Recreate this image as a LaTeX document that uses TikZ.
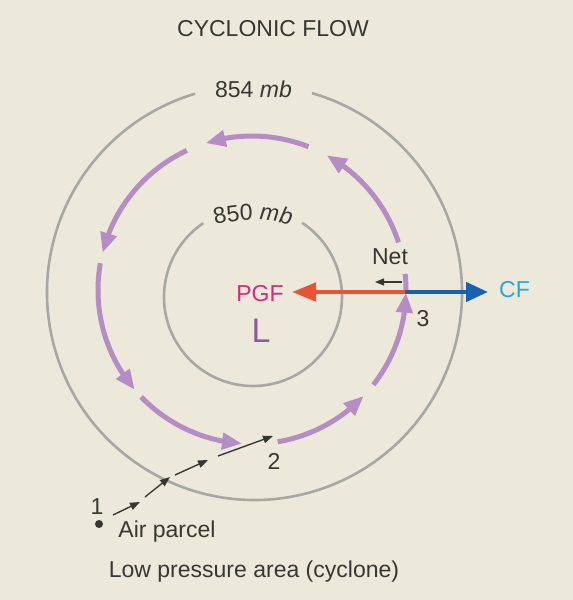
\documentclass[tikz,border=0pt]{standalone}
\usepackage{fontspec}
\setmainfont{Liberation Sans}
\usetikzlibrary{arrows.meta,bending,decorations.text}
\definecolor{bg}{RGB}{236,233,219}
\definecolor{ringc}{RGB}{168,168,163}
\definecolor{flowc}{RGB}{181,140,196}
\definecolor{ink}{RGB}{55,55,50}
\definecolor{pgfred}{RGB}{234,82,52}
\definecolor{pgfpink}{RGB}{214,40,128}
\definecolor{cfblue}{RGB}{22,98,176}
\definecolor{cfcyan}{RGB}{38,168,220}
\definecolor{lpurple}{RGB}{140,92,160}
\begin{document}
\begin{tikzpicture}[x=1pt,y=1pt,
  ring/.style={draw=ringc, line width=2.6pt},
  flowseg/.style={draw=flowc, line width=5pt, -{Triangle[length=20pt,width=16pt,flex]}},
  flowplain/.style={draw=flowc, line width=5pt},
  lbl/.style={font=\fontsize{23}{26}\selectfont, text=ink, inner sep=0pt, anchor=base},
  hop/.style={draw=ink, line width=1.4pt, -{Triangle[length=10pt,width=7.5pt]}},
]
\useasboundingbox[fill=bg] (0,0) rectangle (573,600);

% isobars
\draw[ring] ([shift={(106.6:207.5)}]254.5,307.5) arc[start angle=106.6, end angle=433.9, radius=207.5];
\draw[ring] ([shift={(124:89)}]253,303) arc[start angle=124, end angle=416.5, radius=89];

% cyclonic flow arrows
\draw[flowplain] ([shift={(0:154)}]252,310) arc[start angle=0, end angle=6, radius=154];
\draw[flowseg] ([shift={(18:154)}]252,310) arc[start angle=18, end angle=61, radius=154];
\draw[flowseg] ([shift={(68.5:154)}]252,310) arc[start angle=68.5, end angle=107.5, radius=154];
\draw[flowseg] ([shift={(115:154)}]252,310) arc[start angle=115, end angle=166, radius=154];
\draw[flowseg] ([shift={(170:154)}]252,310) arc[start angle=170, end angle=220.4, radius=154];
\draw[flowseg] ([shift={(224:154)}]252,310) arc[start angle=224, end angle=266.3, radius=154];
\draw[flowseg] ([shift={(279.6:154)}]252,310) arc[start angle=279.6, end angle=316.5, radius=154];
\draw[flowseg] ([shift={(322:154)}]252,310) arc[start angle=322, end angle=359, radius=154];

% labels
\node[lbl] (title) at (273,563) {CYCLONIC FLOW};
\node[lbl] (p854) at (253.5,502) {854 \textit{mb}};
\path[decorate, decoration={text along path, text align=center,
  text={|\fontsize{23}{26}\selectfont\color{ink}|850 |\fontsize{23}{26}\selectfont\itshape\color{ink}|mb}}]
  ([shift={(108:150)}]253,230) arc[start angle=108, end angle=72, radius=150];

\coordinate (p3) at (405,308);
\coordinate (pgftip) at (292,308);
\coordinate (cftip) at (488,308);
\node[lbl, text=pgfpink] (pgf) at (260,298) {PGF};
\node[lbl, text=cfcyan] (cf) at (514.5,302) {CF};
\node[lbl, text=lpurple, font=\fontsize{34}{38}\selectfont] (low) at (261,257) {L};
\node[lbl] (net) at (390,335) {Net};
\node[lbl] (n3) at (423,273) {3};
\node[lbl] (n2) at (274,130) {2};
\node[lbl] (n1) at (97,85) {1};
\node[lbl] (air) at (167,62) {Air parcel};
\node[lbl] (caption) at (254,22) {Low pressure area (cyclone)};

% forces
\draw[pgfred, line width=4.5pt, -{Triangle[length=24pt,width=18pt]}] (p3) -- (pgftip);
\draw[cfblue, line width=4.5pt, -{Triangle[length=22pt,width=19pt]}] (p3) -- (cftip);
\coordinate (netA) at (402,318);
\coordinate (netB) at (375,318);
\draw[ink, line width=1.3pt, -{Triangle[length=9pt,width=7pt]}] (netA) -- (netB);

% parcel path
\coordinate (parcel) at (99,76);
\fill[ink] (parcel) circle (4);
\coordinate (h1a) at (113,85);  \coordinate (h1b) at (140,98);
\coordinate (h2a) at (145,103); \coordinate (h2b) at (170,123);
\coordinate (h3a) at (175,125); \coordinate (h3b) at (208,140);
\coordinate (h4a) at (218,144); \coordinate (h4b) at (273,164);
\draw[hop] (h1a) -- (h1b);
\draw[hop] (h2a) -- (h2b);
\draw[hop] (h3a) -- (h3b);
\draw[hop] (h4a) -- (h4b);
\end{tikzpicture}
\end{document}
